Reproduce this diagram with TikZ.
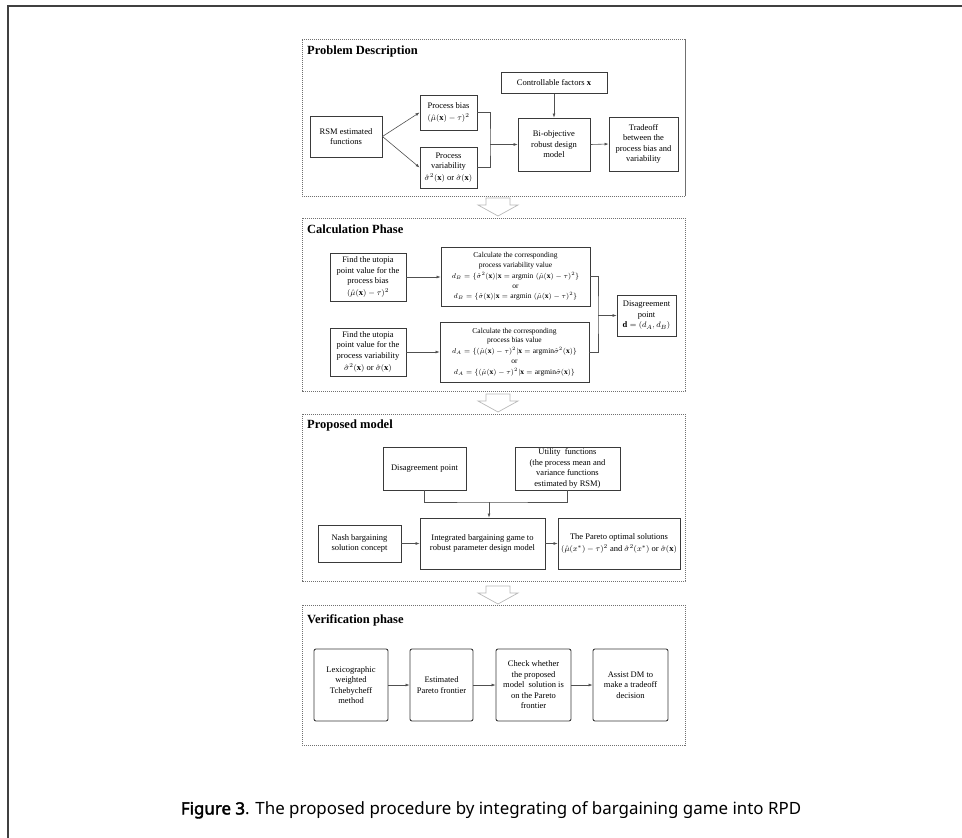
\documentclass[tikz,border=0pt]{standalone}
\usepackage{fontspec}
\setmainfont{Liberation Serif}
\newfontfamily\capfont{Noto Sans}[AutoFakeBold=2.5]
\usetikzlibrary{arrows.meta}
\definecolor{boxc}{HTML}{3A3A3A}
\definecolor{linec}{HTML}{505050}
\definecolor{phc}{HTML}{707070}
\begin{document}
\begin{tikzpicture}[x=1pt,y=-1pt,
  bx/.style={draw=boxc, line width=0.9pt, align=center, inner sep=1pt, font=\fontsize{8.5}{10.5}\selectfont, text=black},
  sm/.style={font=\fontsize{7.5}{9.8}\selectfont},
  rbx/.style={bx, rounded corners=2pt},
  phase/.style={draw=phc, line width=0.6pt, dash pattern=on 1.2pt off 0.8pt},
  ttl/.style={anchor=west, font=\fontsize{12.5}{14}\selectfont\bfseries, inner sep=0pt},
  arr/.style={-{Latex[length=4pt,width=3pt]}, draw=linec, line width=0.6pt},
  ln/.style={draw=linec, line width=0.6pt},
  harrow/.style={draw=gray!55, fill=white, line width=0.7pt}]
\useasboundingbox (0,0) rectangle (962,838);
% outer frame
\draw[line width=1.3pt, draw=black!75] (8,838) -- (8,6) -- (962,6);

% phase boxes
\draw[phase] (302,39.5) rectangle (685,196);
\draw[phase] (302,218) rectangle (685,391);
\draw[phase] (302,414) rectangle (685,581);
\draw[phase] (302,605) rectangle (685,745);

% hollow arrows
\foreach \t in {198,394,586}
  \draw[harrow] (486,\t) -- ++(24,0) -- ++(0,7) -- ++(8,0) -- ++(-20,11) -- ++(-20,-11) -- ++(8,0) -- cycle;

% titles
\node[ttl] (t1) at (307,51) {Problem Description};
\node[ttl] (t2) at (307,229) {Calculation Phase};
\node[ttl] (t3) at (307,425) {Proposed model};
\node[ttl] (t4) at (307,620) {Verification phase};

% ---- Problem description
\node[bx, minimum width=106pt, minimum height=20.5pt] (ctrl) at (554,83) {Controllable factors $\mathbf{x}$};
\node[bx, minimum width=72pt, minimum height=41pt] (rsm) at (346,136.5) {RSM estimated\\functions};
\node[bx, minimum width=57pt, minimum height=35pt] (bias) at (448.5,112.5) {Process bias\\[1pt]$(\hat\mu(\mathbf{x})-\tau)^2$};
\node[bx, minimum width=57pt, minimum height=41pt] (var) at (448.5,167.5) {Process\\variability\\[1.5pt]$\hat\sigma^2(\mathbf{x})$ or $\hat\sigma(\mathbf{x})$};
\node[bx, minimum width=72pt, minimum height=53pt] (biobj) at (554,144.5) {Bi-objective\\robust design\\model};
\node[bx, minimum width=69pt, minimum height=54pt] (trade) at (643.5,144) {Tradeoff\\between the\\process bias and\\variability};
\coordinate (pb) at (490,144.5);
\draw[arr] (rsm.east) -- (bias.west);
\draw[arr] (rsm.east) -- (var.west);
\draw[ln] (bias.east) -| (pb) |- (var.east);
\draw[arr] (pb) -- (biobj.west);
\draw[arr] (ctrl.south) -- (biobj.north);
\draw[arr] (biobj.east) -- (trade.west);

% ---- Calculation phase
\node[bx, minimum width=76pt, minimum height=48pt] (ub) at (368,277) {Find the utopia\\point value for the\\process bias\\[1pt]$(\hat\mu(\mathbf{x})-\tau)^2$};
\node[bx, sm, minimum width=149pt, minimum height=59pt] (cv) at (515.5,276.5) {Calculate the corresponding\\process variability value\\[1pt]$d_B=\{\hat\sigma^2(\mathbf{x})|\mathbf{x}=\mathrm{argmin}\;(\hat\mu(\mathbf{x})-\tau)^2\}$\\or\\[1pt]$d_B=\{\hat\sigma(\mathbf{x})|\mathbf{x}=\mathrm{argmin}\;(\hat\mu(\mathbf{x})-\tau)^2\}$};
\node[bx, minimum width=76pt, minimum height=48pt] (uv) at (368,352) {Find the utopia\\point value for the\\process variability\\[1.5pt]$\hat\sigma^2(\mathbf{x})$ or $\hat\sigma(\mathbf{x})$};
\node[bx, sm, minimum width=149pt, minimum height=60pt] (cb) at (514.5,352) {Calculate the corresponding\\process bias value\\[1pt]$d_A=\{(\hat\mu(\mathbf{x})-\tau)^2|\mathbf{x}=\mathrm{argmin}\hat\sigma^2(\mathbf{x})\}$\\or\\[1pt]$d_A=\{(\hat\mu(\mathbf{x})-\tau)^2|\mathbf{x}=\mathrm{argmin}\hat\sigma(\mathbf{x})\}$};
\node[bx, minimum width=59pt, minimum height=41pt] (dp) at (646.5,315.5) {Disagreement\\point\\$\mathbf{d}=(d_A,d_B)$};
\coordinate (cbk) at (598,315.5);
\draw[arr] (ub.east) -- (ub.east -| cv.west);
\draw[arr] (uv.east) -- (uv.east -| cb.west);
\draw[ln] (cv.east) -| (cbk) |- (cb.east);
\draw[arr] (cbk) -- (dp.west);

% ---- Proposed model
\node[bx, minimum width=83pt, minimum height=43pt] (dp2) at (424.5,468.5) {Disagreement point};
\node[bx, minimum width=105pt, minimum height=43pt] (util) at (567.5,468.5) {Utility\ \ functions\\(the process mean and\\variance functions\\estimated by RSM)};
\node[bx, minimum width=83pt, minimum height=37pt] (nash) at (359.5,543.5) {Nash bargaining\\solution concept};
\node[bx, minimum width=125pt, minimum height=51pt] (integ) at (482.5,543.5) {Integrated bargaining game to\\robust parameter design model};
\node[bx, minimum width=122pt, minimum height=51pt] (pareto) at (619,543.5) {The Pareto optimal solutions\\[1.5pt]$(\hat\mu(x^*)-\tau)^2$ and $\hat\sigma^2(x^*)$ or $\hat\sigma(\mathbf{x})$};
\coordinate (pbk) at (489,502);
\draw[ln] (dp2.south) |- (pbk) -| (util.south);
\draw[arr] (pbk) -- (pbk |- integ.north);
\draw[arr] (nash.east) -- (integ.west);
\draw[arr] (integ.east) -- (pareto.west);

% ---- Verification phase
\node[rbx, minimum width=74pt, minimum height=72pt] (lex) at (351,685) {Lexicographic\\weighted\\Tchebycheff\\method};
\node[rbx, minimum width=63pt, minimum height=72pt] (est) at (441.5,685) {Estimated\\Pareto frontier};
\node[rbx, minimum width=75pt, minimum height=72pt] (chk) at (533.5,685) {Check whether\\the proposed\\model\ \ solution is\\on the Pareto\\frontier};
\node[rbx, minimum width=75pt, minimum height=72pt] (ast) at (630.5,685) {Assist DM to\\make a tradeoff\\decision};
\draw[arr] (lex.east) -- (est.west);
\draw[arr] (est.east) -- (chk.west);
\draw[arr] (chk.east) -- (ast.west);

% caption
\node[font=\capfont\fontsize{16.9}{20}\selectfont, inner sep=0pt] (cap) at (491,810) {\textbf{Figure 3}. The proposed procedure by integrating of bargaining game into RPD};
\end{tikzpicture}
\end{document}
